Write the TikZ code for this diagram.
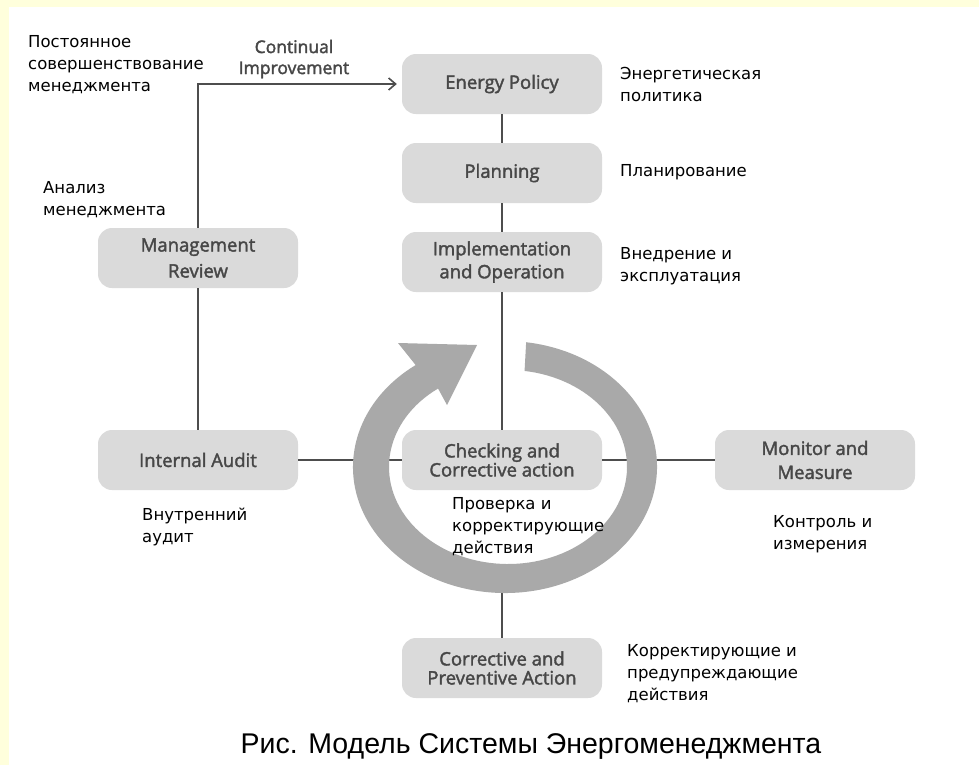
\documentclass[tikz,border=0pt]{standalone}
\usepackage{fontspec}
\setmainfont{DejaVu Sans}
\newfontfamily\boxfont[FakeBold=2]{Open Sans}
\newfontfamily\rufont{DejaVu Sans}
\newfontfamily\capfont{Liberation Sans}
\usetikzlibrary{arrows.meta}
\definecolor{bgyellow}{HTML}{FFFFDC}
\definecolor{boxgray}{HTML}{DADADA}
\definecolor{boxtext}{HTML}{474747}
\definecolor{ringgray}{HTML}{A9A9A9}
\definecolor{linegray}{HTML}{4D4D4D}
\tikzset{
  box/.style={rounded corners=14pt, fill=boxgray, minimum width=200pt, minimum height=60pt,
    inner sep=0pt, align=center, text=boxtext, font=\boxfont\fontsize{18.5}{23}\selectfont},
  conn/.style={draw=linegray, line width=1.8pt},
  rulabel/.style={anchor=west, align=left, inner sep=0pt, text=black,
    font=\rufont\fontsize{16.5}{22}\selectfont},
}
\begin{document}
\begin{tikzpicture}[x=1pt,y=-1pt]
\useasboundingbox (0,0) rectangle (979,764);
\fill[white] (-5,-5) rectangle (990,775);
\fill[bgyellow] (-5,-5) rectangle (990,7);
\fill[bgyellow] (-5,-5) rectangle (9,775);

% boxes
\node[box] (ep) at (502,84) {Energy Policy};
\node[box] (pl) at (502,173) {Planning};
\node[box] (im) at (502,262) {Implementation\\and Operation};
\node[box, font=\boxfont\fontsize{18.5}{26}\selectfont] (mr) at (198,258) {Management\\Review};
\node[box] (ia) at (198,460) {Internal Audit};
\node[box, font=\boxfont\fontsize{18.5}{16}\selectfont] (chk) at (502,460) {Checking and\\Corrective action};
\node[box, font=\boxfont\fontsize{18.5}{24}\selectfont] (mm) at (815,460) {Monitor and\\Measure};
\node[box, font=\boxfont\fontsize{18.5}{19}\selectfont] (cpa) at (502,668) {Corrective and\\Preventive Action};
\coordinate (ringbot) at (502,585);

% connectors
\draw[conn] (ep) -- (pl);
\draw[conn] (pl) -- (im);
\draw[conn] (im) -- (chk);
\draw[conn] (mr) -- (ia);
\draw[conn] (ia) -- (chk);
\draw[conn] (chk) -- (mm);
\draw[conn] (ringbot) -- (cpa);
\draw[conn, -{Straight Barb[length=7pt,width=12pt,line width=1.6pt]}] (mr.north) |- ([xshift=-5pt]ep.west);
\node[font=\boxfont\fontsize{17.5}{21}\selectfont, text=boxtext, align=center] (ci) at (294,59) {Continual\\Improvement};

% cycle ring
\fill[ringgray] ({505+152*cos(-82)},{467+126*sin(-82)})
  arc[start angle=-82, end angle=234, x radius=152, y radius=126]
  -- (398,343) -- (477,345) -- (447,405)
  -- ({508+119*cos(234)},{467+97*sin(234)})
  arc[start angle=234, end angle=-82, x radius=119, y radius=97]
  -- cycle;

% russian labels
\node[rulabel] (t1) at (28,65) {Постоянное\\совершенствование\\менеджмента};
\node[rulabel] (t2) at (43,200) {Анализ\\менеджмента};
\node[rulabel] (t3) at (620,84) {Энергетическая\\политика};
\node[rulabel] (t4) at (620,172) {Планирование};
\node[rulabel] (t5) at (620,266) {Внедрение и\\эксплуатация};
\node[rulabel] (t6) at (142,527) {Внутренний\\аудит};
\node[rulabel] (t7) at (452,527) {Проверка и\\корректирующие\\действия};
\node[rulabel] (t8) at (773,534) {Контроль и\\измерения};
\node[rulabel] (t9) at (627,674) {Корректирующие и\\предупреждающие\\действия};

\node[font=\capfont\fontsize{28.5}{32}\selectfont] (cap) at (531,746) {Рис. Модель Системы Энергоменеджмента};
\end{tikzpicture}
\end{document}
